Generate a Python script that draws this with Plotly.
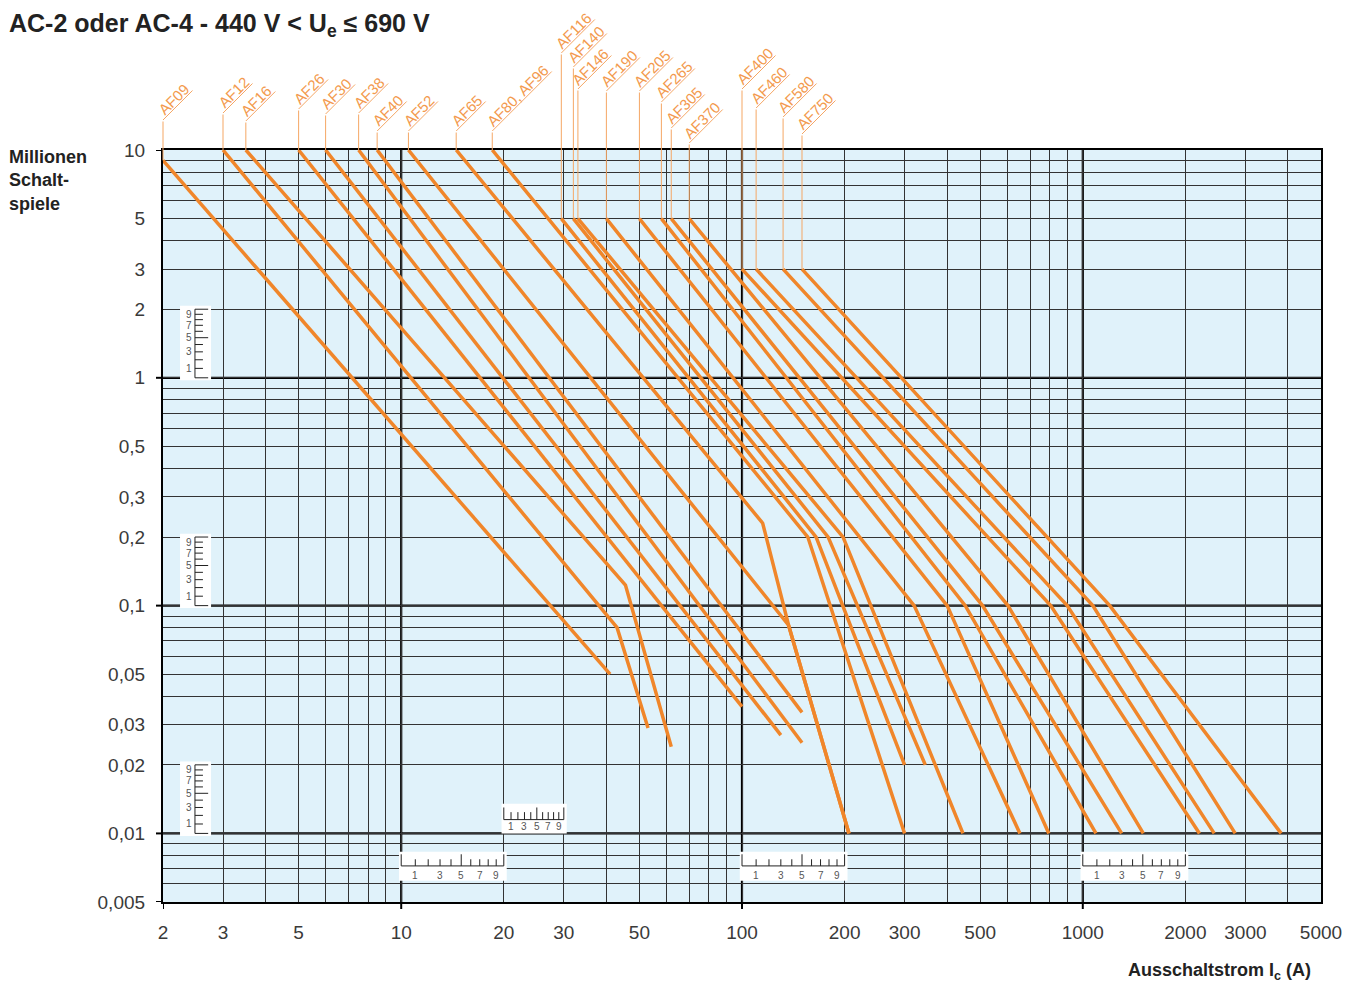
import math
import plotly.graph_objects as go

# ---------------- data ----------------
# Ausschaltstrom Ic (A) and Millionen Schaltspiele for each contactor curve
AF09_I = [2, 41];                AF09_N = [9, 0.05]
AF12_I = [3, 43, 53];            AF12_N = [10, 0.08, 0.029]
AF16_I = [3.5, 45.5, 62];        AF16_N = [10, 0.123, 0.024]
AF26_I = [5, 100];               AF26_N = [10, 0.036]
AF30_I = [6, 130];               AF30_N = [10, 0.027]
AF38_I = [7.5, 150];             AF38_N = [10, 0.025]
AF40_I = [8.5, 150];             AF40_N = [10, 0.034]
AF52_I = [10.5, 137, 206];       AF52_N = [10, 0.082, 0.01]
AF65_I = [14.5, 115, 137, 206];  AF65_N = [10, 0.23, 0.082, 0.01]
AF80_I = [18.5, 156, 300];       AF80_N = [10, 0.2, 0.01]
AF116_I = [29.5, 165, 300];      AF116_N = [5, 0.2, 0.02]
AF140_I = [32, 179, 345];        AF140_N = [5, 0.2, 0.02]
AF146_I = [33, 198, 445];        AF146_N = [5, 0.2, 0.01]
AF190_I = [40, 320, 654];        AF190_N = [5, 0.1, 0.01]
AF205_I = [50, 400, 795];        AF205_N = [5, 0.1, 0.01]
AF265_I = [58, 452, 1093];       AF265_N = [5, 0.1, 0.01]
AF305_I = [62, 508, 1300];       AF305_N = [5, 0.1, 0.01]
AF370_I = [70, 603, 1505];       AF370_N = [5, 0.1, 0.01]
AF400_I = [100, 805, 2200];      AF400_N = [3, 0.1, 0.01]
AF460_I = [110, 900, 2430];      AF460_N = [3, 0.1, 0.01]
AF580_I = [132, 1070, 2800];     AF580_N = [3, 0.1, 0.01]
AF750_I = [150, 1200, 3820];     AF750_N = [3, 0.1, 0.01]

labels = ["AF09", "AF12", "AF16", "AF26", "AF30", "AF38", "AF40", "AF52", "AF65",
          "AF80, AF96", "AF116", "AF140", "AF146", "AF190", "AF205", "AF265",
          "AF305", "AF370", "AF400", "AF460", "AF580", "AF750"]
currents = [AF09_I, AF12_I, AF16_I, AF26_I, AF30_I, AF38_I, AF40_I, AF52_I, AF65_I,
            AF80_I, AF116_I, AF140_I, AF146_I, AF190_I, AF205_I, AF265_I,
            AF305_I, AF370_I, AF400_I, AF460_I, AF580_I, AF750_I]
cycles = [AF09_N, AF12_N, AF16_N, AF26_N, AF30_N, AF38_N, AF40_N, AF52_N, AF65_N,
          AF80_N, AF116_N, AF140_N, AF146_N, AF190_N, AF205_N, AF265_N,
          AF305_N, AF370_N, AF400_N, AF460_N, AF580_N, AF750_N]

x_tickvals = [2, 3, 5, 10, 20, 30, 50, 100, 200, 300, 500, 1000, 2000, 3000, 5000]
x_ticktext = ["2", "3", "5", "10", "20", "30", "50", "100", "200", "300", "500",
              "1000", "2000", "3000", "5000"]
x_minor = [4, 6, 7, 8, 9, 40, 60, 70, 80, 90, 400, 600, 700, 800, 900, 4000]
y_tickvals = [0.005, 0.01, 0.02, 0.03, 0.05, 0.1, 0.2, 0.3, 0.5, 1, 2, 3, 5, 10]
y_ticktext = ["0,005", "0,01", "0,02", "0,03", "0,05", "0,1", "0,2", "0,3", "0,5",
              "1", "2", "3", "5", "10"]
y_minor = [0.006, 0.007, 0.008, 0.009, 0.04, 0.06, 0.07, 0.08, 0.09,
           0.4, 0.6, 0.7, 0.8, 0.9, 4, 6, 7, 8, 9]
decades_x = [10, 100, 1000]
decades_y = [0.01, 0.1, 1]
edge_ticks_x = [2, 10, 100, 1000]
edge_ticks_y = [0.005, 0.01, 0.1, 1, 10]

# ---------------- style ----------------
FONT = "Liberation Sans, Arial, sans-serif"
ORANGE = "#F0862A"
LABEL_ORANGE = "#F39A4E"
STEM_ORANGE = "#F5A765"
GRID = "#333333"
BG = "#E0F2FA"

X_RANGE = [math.log10(2), math.log10(5000)]
Y_RANGE = [math.log10(0.005), math.log10(10)]
W, H = 1339, 975
ML, MR, MT, MB = 155, 26, 142, 81
PLOT_W = W - ML - MR
PLOT_H = H - MT - MB
PX_PER_DEC = PLOT_H / (Y_RANGE[1] - Y_RANGE[0])

# label leader geometry (pixels above plot top, diagonal length)
stem_h = [30, 37, 29, 41, 36, 37, 19, 19, 19, 19, 97, 83, 61, 59, 59, 48, 22, 7, 61, 42, 33, 16]
diag_len = [31, 31, 31, 31, 31, 31, 31, 31, 31, 61, 35, 35, 35, 35, 35, 35, 35, 35, 35, 35, 35, 35]

fig = go.Figure()

for name, xs, ys in zip(labels, currents, cycles):
    fig.add_trace(go.Scatter(
        x=xs, y=ys, mode="lines", name=name, showlegend=False, hoverinfo="skip",
        line=dict(color=ORANGE, width=3.5), cliponaxis=True))

shapes = []
annotations = []

# thick decade lines
for d in decades_x:
    shapes.append(dict(type="line", xref="x", yref="y domain", x0=d, x1=d, y0=0, y1=1,
                       line=dict(color="black", width=2.2), layer="below"))
for d in decades_y:
    shapes.append(dict(type="line", xref="x domain", yref="y", x0=0, x1=1, y0=d, y1=d,
                       line=dict(color="black", width=2.2), layer="below"))

# small outside ticks at the decade positions
for d in edge_ticks_y:
    shapes.append(dict(type="line", xref="x domain", yref="y", x0=-7 / PLOT_W, x1=0,
                       y0=d, y1=d, line=dict(color="black", width=2), layer="above"))
for d in edge_ticks_x:
    shapes.append(dict(type="line", xref="x", yref="y domain", x0=d, x1=d,
                       y0=-7 / PLOT_H, y1=0, line=dict(color="black", width=2), layer="above"))

# leader lines and rotated labels
for name, xs, ys, h, L in zip(labels, currents, cycles, stem_h, diag_len):
    x0 = xs[0]
    y0 = ys[0]
    y_top = 10 ** (Y_RANGE[1] + h / PX_PER_DEC)
    annotations.append(dict(
        x=math.log10(x0), y=math.log10(y0), xref="x", yref="y",
        ax=math.log10(x0), ay=math.log10(y_top), axref="x", ayref="y",
        text="", showarrow=True, arrowhead=0, arrowwidth=1, arrowcolor=STEM_ORANGE,
        standoff=0, startstandoff=0))
    top_paper = 1 + h / PLOT_H
    annotations.append(dict(
        x=math.log10(x0), y=top_paper, xref="x", yref="paper",
        ax=L, ay=-L, axref="pixel", ayref="pixel",
        text="", showarrow=True, arrowhead=0, arrowwidth=1, arrowcolor=STEM_ORANGE,
        standoff=0, startstandoff=0))
    annotations.append(dict(
        x=math.log10(x0), y=top_paper, xref="x", yref="paper",
        text=name, showarrow=False, textangle=-45,
        xanchor="center", yanchor="middle",
        xshift=L / 2 - 5, yshift=L / 2 + 5,
        font=dict(family=FONT, size=15, color=LABEL_ORANGE)))

# small reading rulers (decoration)
RULER_FONT = dict(family=FONT, size=10, color="#555555")
for b in decades_y:
    shapes.append(dict(type="rect", xref="x domain", yref="y", x0=0.0147, x1=0.0415,
                       y0=b * 0.975, y1=b * 2.07, fillcolor="white", line=dict(width=0),
                       layer="above"))
    shapes.append(dict(type="line", xref="x domain", yref="y", x0=0.0276, x1=0.0276,
                       y0=b, y1=2 * b, line=dict(color="#222", width=1), layer="above"))
    for k in range(11):
        xe = 0.039 if k in (0, 5, 10) else 0.0345
        shapes.append(dict(type="line", xref="x domain", yref="y", x0=0.0276, x1=xe,
                           y0=b * (1 + k / 10), y1=b * (1 + k / 10),
                           line=dict(color="#222", width=1), layer="above"))
    for k in (1, 3, 5, 7, 9):
        annotations.append(dict(xref="x domain", yref="y", x=0.0180,
                                y=math.log10(b * (1 + k / 10)), text=str(k),
                                showarrow=False, font=RULER_FONT))


def x_ruler(b, step, yb0, yb1, yl, yt, ytl, ylab):
    shapes.append(dict(type="rect", xref="x", yref="y", x0=b * 0.985, x1=(b + 10 * step) * 1.02,
                       y0=yb0, y1=yb1, fillcolor="white", line=dict(width=0), layer="above"))
    shapes.append(dict(type="line", xref="x", yref="y", x0=b, x1=b + 10 * step, y0=yl, y1=yl,
                       line=dict(color="#222", width=1), layer="above"))
    for k in range(11):
        ye = ytl if k in (0, 5, 10) else yt
        xv = b + k * step
        shapes.append(dict(type="line", xref="x", yref="y", x0=xv, x1=xv, y0=yl, y1=ye,
                           line=dict(color="#222", width=1), layer="above"))
    for k in (1, 3, 5, 7, 9):
        annotations.append(dict(xref="x", yref="y", x=math.log10(b + k * step),
                                y=math.log10(ylab), text=str(k), showarrow=False,
                                font=RULER_FONT))


for b in decades_x:
    x_ruler(b, b / 10, 0.0062, 0.0083, 0.0072, 0.0077, 0.0081, 0.00655)
x_ruler(20, 1, 0.0100, 0.0135, 0.0115, 0.0124, 0.0130, 0.0107)

# titles
annotations.append(dict(xref="paper", yref="paper", x=(7 - 163) / PLOT_W, y=1 + 125 / PLOT_H,
                        xanchor="left", yanchor="middle", showarrow=False,
                        text="<b>AC-2 oder AC-4 - 440 V &lt; U<sub>e</sub> ≤ 690 V</b>",
                        font=dict(family=FONT, size=25, color="#222222")))
annotations.append(dict(xref="paper", yref="paper", x=(7 - 163) / PLOT_W, y=1 + 5 / PLOT_H,
                        xanchor="left", yanchor="top", showarrow=False, align="left",
                        text="<b>Millionen<br>Schalt-<br>spiele</b>",
                        font=dict(family=FONT, size=18, color="#222222")))
annotations.append(dict(xref="paper", yref="paper", x=1, y=-(971 - 902) / PLOT_H,
                        xanchor="right", yanchor="middle", xshift=-8, showarrow=False,
                        text="<b>Ausschaltstrom I<sub>c</sub> (A)</b>",
                        font=dict(family=FONT, size=18, color="#222222")))

axis_common = dict(type="log", showline=True, mirror=True, linecolor="black", linewidth=2.2,
                   showgrid=True, gridcolor=GRID, gridwidth=1.2, zeroline=False,
                   automargin=False,
                   ticks="outside", tickcolor="rgba(0,0,0,0)",
                   tickfont=dict(family=FONT, size=19, color="#3a3a3a"))

fig.update_layout(
    width=W, height=H, autosize=False,
    margin=dict(l=ML, r=MR, t=MT, b=MB),
    paper_bgcolor="white", plot_bgcolor=BG,
    shapes=shapes, annotations=annotations,
    xaxis=dict(range=X_RANGE, tickvals=x_tickvals, ticktext=x_ticktext, ticklen=12,
               minor=dict(tickvals=x_minor, showgrid=True, gridcolor=GRID, gridwidth=1.2,
                          ticks=""),
               **axis_common),
    yaxis=dict(range=Y_RANGE, tickvals=y_tickvals, ticktext=y_ticktext, ticklen=12,
               minor=dict(tickvals=y_minor, showgrid=True, gridcolor=GRID, gridwidth=1.2,
                          ticks=""),
               **axis_common),
)

fig.write_html("out.html")
